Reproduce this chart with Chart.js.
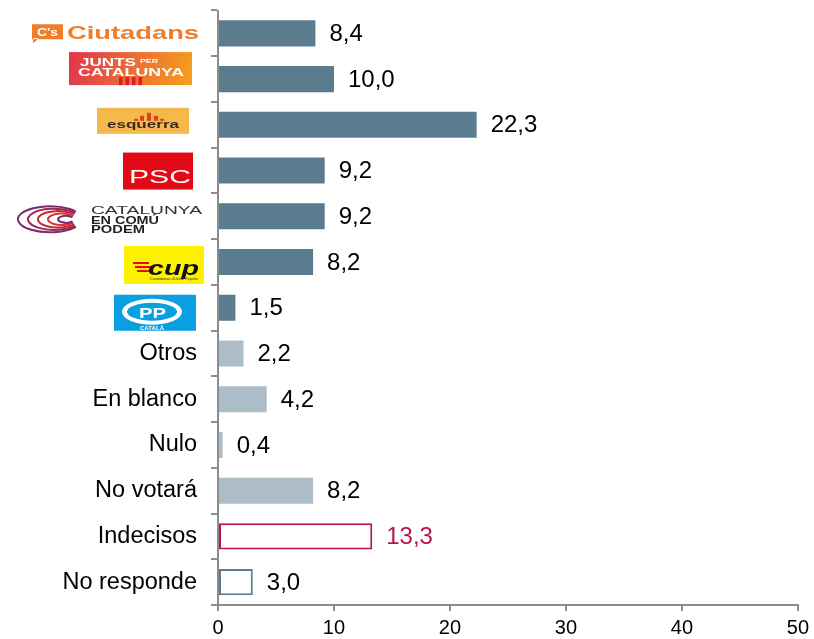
<!DOCTYPE html>
<html>
<head>
<meta charset="utf-8">
<script src="https://cdn.jsdelivr.net/npm/chart.js@4"></script>
<style>
  html, body { margin: 0; padding: 0; background: #fff; }
  #wrap { width: 814px; height: 639px; }
</style>
</head>
<body>
<div id="wrap"><canvas id="chart" width="814" height="639"></canvas></div>
<script>
const categories = ["Ciutadans", "Junts per Catalunya", "Esquerra", "PSC", "Catalunya en Comú Podem", "CUP", "PP",
    "Otros", "En blanco", "Nulo", "No votará", "Indecisos", "No responde"];
const values = [8.4, 10.0, 22.3, 9.2, 9.2, 8.2, 1.5, 2.2, 4.2, 0.4, 8.2, 13.3, 3.0];
const logoParties = ["Ciutadans", "Junts per Catalunya", "Esquerra", "PSC", "Catalunya en Comú Podem", "CUP", "PP"];
const xTicks = [0, 10, 20, 30, 40, 50];

const DARK = "#5b7c8e";
const LIGHT = "#adbdc7";
const CRIMSON = "#b8154c";

const fills = categories.map((name) => {
    if (logoParties.includes(name)) return DARK;
    if (name === "Indecisos" || name === "No responde") return "#ffffff";
    return LIGHT;
});
const borders = categories.map((name, i) => {
    if (name === "Indecisos") return CRIMSON;
    if (name === "No responde") return DARK;
    return fills[i];
});
const borderWidths = categories.map((name) => (name === "Indecisos" || name === "No responde") ? 2 : 0);

// stretch text horizontally to fit a width
function fitText(ctx, text, x, y, width, font, color) {
    ctx.save();
    ctx.font = font;
    ctx.fillStyle = color;
    ctx.textBaseline = "alphabetic";
    ctx.textAlign = "left";
    const w = ctx.measureText(text).width;
    ctx.translate(x, y);
    ctx.scale(width / w, 1);
    ctx.fillText(text, 0, 0);
    ctx.restore();
}

// rough party logos, y offsets relative to the category centre
const logos = {
    "Ciutadans": (ctx, yc) => {
        const y = yc - 33;
        ctx.fillStyle = "#f07d2a";
        ctx.beginPath();
        ctx.rect(32, y + 24, 31, 15);
        ctx.moveTo(33, y + 38); ctx.lineTo(33, y + 43); ctx.lineTo(39, y + 38);
        ctx.fill();
        fitText(ctx, "C's", 37, y + 36, 21, "bold 11px Arial", "#fff");
        fitText(ctx, "Ciutadans", 67, y + 39, 132, "bold 19px Arial", "#f07d2a");
    },
    "Junts per Catalunya": (ctx, yc) => {
        const y = yc - 79;
        const g = ctx.createLinearGradient(69, y + 52, 192, y + 85);
        g.addColorStop(0, "#e2354d");
        g.addColorStop(1, "#f5a11c");
        ctx.fillStyle = g;
        ctx.fillRect(69, y + 52, 123, 33);
        fitText(ctx, "JUNTS", 80, y + 66, 56, "bold 11px Arial", "#fff");
        fitText(ctx, "PER", 140, y + 63, 18, "bold 6px Arial", "#fff");
        fitText(ctx, "CATALUNYA", 78, y + 76, 106, "bold 11px Arial", "#fff");
        ctx.fillStyle = "#d91c2a";
        for (let i = 0; i < 4; i++) ctx.fillRect(119 + i * 6.5, y + 77, 3.5, 8);
    },
    "Esquerra": (ctx, yc) => {
        const y = yc - 125;
        ctx.fillStyle = "#f5b94b";
        ctx.fillRect(97, y + 108, 92, 26);
        ctx.fillStyle = "#e2401f";
        ctx.fillRect(140, y + 116, 4, 5);
        ctx.fillRect(147, y + 113, 4, 8);
        ctx.fillRect(154, y + 116, 4, 5);
        ctx.fillRect(134, y + 119, 4, 2);
        ctx.fillRect(160, y + 119, 4, 2);
        fitText(ctx, "esquerra", 107, y + 128, 72, "bold 11px Arial", "#3a2a22");
    },
    "PSC": (ctx, yc) => {
        const y = yc - 171;
        ctx.fillStyle = "#e30a17";
        ctx.fillRect(123, y + 153, 70, 37);
        fitText(ctx, "PSC", 129, y + 183, 62, "18px Arial", "#fff");
    },
    "Catalunya en Comú Podem": (ctx, yc) => {
        const y = yc - 217;
        const cols = ["#7b2a6e", "#a02550", "#c22a3a", "#d8343a"];
        ctx.lineWidth = 2;
        for (let i = 0; i < 5; i++) {
            ctx.strokeStyle = cols[i % cols.length];
            ctx.beginPath();
            ctx.ellipse(50 + i * 4, y + 220, 32 - i * 6, 13 - i * 2.4, 0, 0.2 * Math.PI, 1.8 * Math.PI);
            ctx.stroke();
        }
        fitText(ctx, "CATALUNYA", 91, y + 215, 111, "10px Arial", "#333");
        fitText(ctx, "EN COMÚ", 91, y + 225, 68, "bold 10px Arial", "#222");
        fitText(ctx, "PODEM", 91, y + 234, 54, "bold 10px Arial", "#222");
    },
    "CUP": (ctx, yc) => {
        const y = yc - 262;
        ctx.fillStyle = "#fff200";
        ctx.fillRect(124, y + 246, 80, 38);
        ctx.fillStyle = "#e30a17";
        for (let i = 0; i < 3; i++) ctx.fillRect(133 + i * 2, y + 262 + i * 4, 16, 2);
        fitText(ctx, "cup", 148, y + 275, 51, "italic bold 20px Arial", "#111");
        fitText(ctx, "Candidatura d'Unitat Popular", 150, y + 280, 48, "3px Arial", "#333");
    },
    "PP": (ctx, yc) => {
        const y = yc - 308;
        ctx.fillStyle = "#0a9fe0";
        ctx.fillRect(114, y + 295, 82, 36);
        ctx.fillStyle = "#fff";
        ctx.beginPath();
        ctx.ellipse(152, y + 312, 30, 13, 0, 0, Math.PI * 2);
        ctx.fill();
        ctx.fillStyle = "#0a9fe0";
        ctx.beginPath();
        ctx.ellipse(152, y + 312, 25, 9, 0, 0, Math.PI * 2);
        ctx.fill();
        fitText(ctx, "PP", 139, y + 318, 27, "bold 15px Arial", "#fff");
        fitText(ctx, "CATALÀ", 140, y + 330, 24, "bold 5px Arial", "#fff");
    },
};

const annotate = {
    id: "annotate",
    afterDatasetsDraw(chart) {
        const { ctx } = chart;
        const xs = chart.scales.x;
        const ys = chart.scales.y;
        ctx.save();
        ctx.font = "24px Arial";
        ctx.textBaseline = "middle";
        ctx.textAlign = "left";
        values.forEach((v, i) => {
            ctx.fillStyle = categories[i] === "Indecisos" ? CRIMSON : "#000";
            ctx.fillText(v.toFixed(1).replace(".", ","), xs.getPixelForValue(v) + 14, ys.getPixelForValue(i) + 1);
        });
        categories.forEach((name, i) => {
            if (logos[name]) logos[name](ctx, ys.getPixelForValue(i));
        });
        ctx.restore();
    },
};

new Chart(document.getElementById("chart"), {
    type: "bar",
    data: {
        labels: categories,
        datasets: [{
            data: values,
            backgroundColor: fills,
            borderColor: borders,
            borderWidth: borderWidths,
            borderSkipped: false,
            categoryPercentage: 1,
            barPercentage: 0.57,
        }],
    },
    options: {
        indexAxis: "y",
        responsive: false,
        animation: false,
        devicePixelRatio: 1,
        layout: { padding: { top: 10.5, right: 14, left: 0, bottom: 0 } },
        plugins: { legend: { display: false }, tooltip: { enabled: false } },
        scales: {
            x: {
                min: 0,
                max: 50,
                afterBuildTicks: (scale) => { scale.ticks = xTicks.map((v) => ({ value: v })); },
                afterFit: (scale) => { scale.height = 34; },
                ticks: { color: "#000", font: { family: "Arial", size: 20 }, padding: 5 },
                grid: { drawOnChartArea: false, drawTicks: true, tickLength: 6, color: "#8c8c8c", lineWidth: 2 },
                border: { color: "#8c8c8c", width: 2 },
            },
            y: {
                afterFit: (scale) => {
                    scale.width = 218;
                    scale.paddingTop = 0;
                    scale.paddingBottom = 0;
                },
                ticks: {
                    color: "#000",
                    font: { family: "Arial", size: 23.5 },
                    padding: 14,
                    callback: (value, index) => logoParties.includes(categories[index]) ? "" : categories[index],
                },
                grid: { drawOnChartArea: false, drawTicks: true, tickLength: 7, offset: true, color: "#8c8c8c", lineWidth: 2 },
                border: { color: "#8c8c8c", width: 2 },
            },
        },
    },
    plugins: [annotate],
});
</script>
</body>
</html>
